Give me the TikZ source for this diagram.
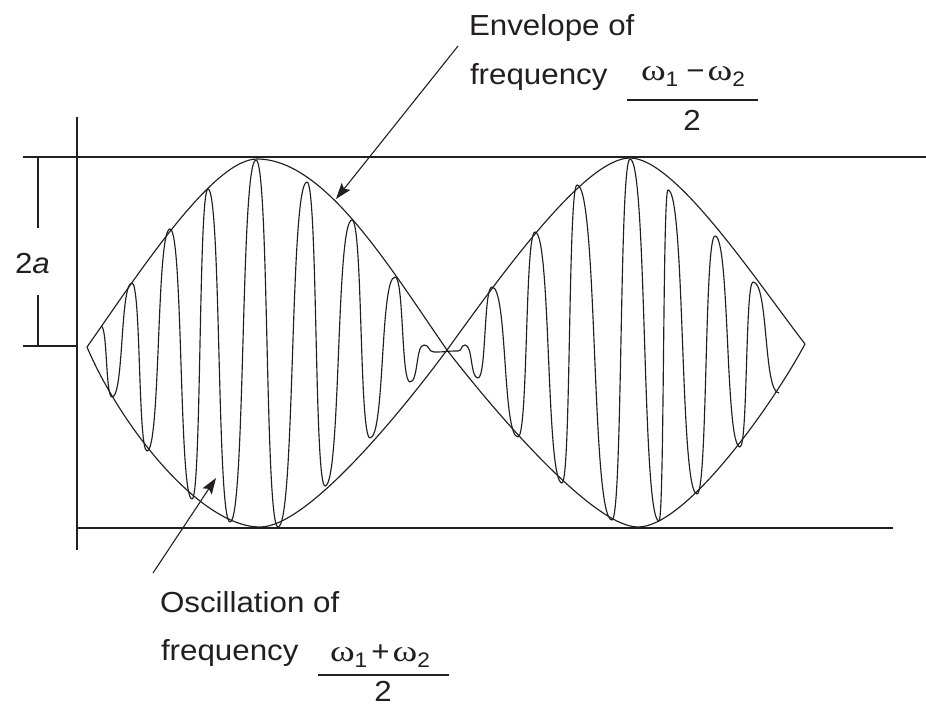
\documentclass[tikz,border=0pt]{standalone}
\usepackage{fontspec}
\setmainfont[FakeStretch=1.08]{Liberation Sans}
\newfontfamily\grk[FakeStretch=1.25]{Liberation Serif}
\usetikzlibrary{arrows.meta}
\definecolor{ink}{RGB}{35,31,32}
\newcommand\subs[1]{\raisebox{-6.5pt}{\fontsize{21}{21}\selectfont #1}}
\newcommand\om{{\grk\fontsize{30}{30}\selectfont ω}}
\begin{document}
\begin{tikzpicture}[x=1pt,y=-1pt,
  axis/.style={draw=ink,line width=1.5pt},
  curve/.style={draw=ink,line width=1.15pt,line join=round},
  fracbar/.style={draw=ink,line width=1.3pt},
  lbl/.style={inner sep=0pt,outer sep=0pt,text=ink,font=\fontsize{29}{34}\selectfont},
  pointer/.style={draw=ink,line width=1.1pt,-{Stealth[length=16pt,width=11pt,inset=3pt]}}]
\useasboundingbox (0,0) rectangle (926,707);

% axes and guide lines
\coordinate (vtop) at (77,117);  \coordinate (vbot) at (77,550);
\coordinate (tl) at (23,157);    \coordinate (tr) at (926,157);
\coordinate (bl) at (77,528);    \coordinate (br) at (893,528);
\coordinate (ml) at (23,346);    \coordinate (mr) at (77,346);
\draw[axis] (vtop) -- (vbot);
\draw[axis] (tl) -- (tr);
\draw[axis] (bl) -- (br);
\draw[axis] (ml) -- (mr);

% dimension 2a
\coordinate (d1) at (38,157); \coordinate (d2) at (38,228);
\coordinate (d3) at (38,295); \coordinate (d4) at (38,346);
\draw[axis] (d1) -- (d2);
\draw[axis] (d3) -- (d4);
\node[lbl,anchor=base west] (amp) at (15,273) {2\textit{a}};

% envelope
\coordinate (L) at (87,347);  \coordinate (T1) at (257,159); \coordinate (B1) at (260,527);
\coordinate (N) at (447,350); \coordinate (T2) at (630,158); \coordinate (B2) at (638,527);
\coordinate (R) at (805,344);
\draw[curve] (L) .. controls (135,279) and (212,159) .. (T1)
  .. controls (325,159) and (390,268) .. (N)
  .. controls (502,274) and (585,158) .. (T2)
  .. controls (675,158) and (755,279) .. (R);
\draw[curve] (L) .. controls (120,425) and (200,527) .. (B1)
  .. controls (305,527) and (392,424) .. (N)
  .. controls (502,421) and (595,527) .. (B2)
  .. controls (685,527) and (770,409) .. (R);

% oscillation
\draw[curve] (101,326)
  foreach \x/\y [remember=\x as \lx (initially 101), remember=\y as \ly (initially 326)] in
  {112/397, 132/283, 147/451, 170/229, 192/499, 208/189, 230/522, 256/160, 278/527,
   307/182, 325/486, 352/220, 370/438, 395/277, 410/382, 424/345, 434/352, 458/351,
   465/345, 478/378, 492/287, 518/437, 535/232, 562/483, 577/185, 612/520, 630/159,
   659/521, 668/190, 697/494, 715/236, 740/447, 753/282, 779/393}
  { .. controls ({\lx+0.6*(\x-\lx)},\ly) and ({\x-0.6*(\x-\lx)},\y) .. (\x,\y) };

% top label
\node[lbl,anchor=base west] (env1) at (469,35) {Envelope of};
\node[lbl,anchor=base west] (env2) at (470,84) {frequency};
\node[lbl,anchor=base west] (envnum) at (641,80) {\om\subs{1}\hspace{8pt}−\hspace{3pt}\om\subs{2}};
\coordinate (eb1) at (627,100); \coordinate (eb2) at (758,100);
\draw[fracbar] (eb1) -- (eb2);
\node[lbl,anchor=base] (envden) at (692,130) {2};
\coordinate (etail) at (458,46); \coordinate (etip) at (336,199);
\draw[pointer] (etail) -- (etip);

% bottom label
\node[lbl,anchor=base west] (osc1) at (160,612) {Oscillation of};
\node[lbl,anchor=base west] (osc2) at (161,660) {frequency};
\node[lbl,anchor=base west] (oscnum) at (330,661) {\om\subs{1}\hspace{4pt}+\hspace{3pt}\om\subs{2}};
\coordinate (ob1) at (318,675); \coordinate (ob2) at (449,675);
\draw[fracbar] (ob1) -- (ob2);
\node[lbl,anchor=base] (oscden) at (383,701) {2};
\coordinate (otail) at (153,573); \coordinate (otip) at (216,478);
\draw[pointer] (otail) -- (otip);
\end{tikzpicture}
\end{document}
